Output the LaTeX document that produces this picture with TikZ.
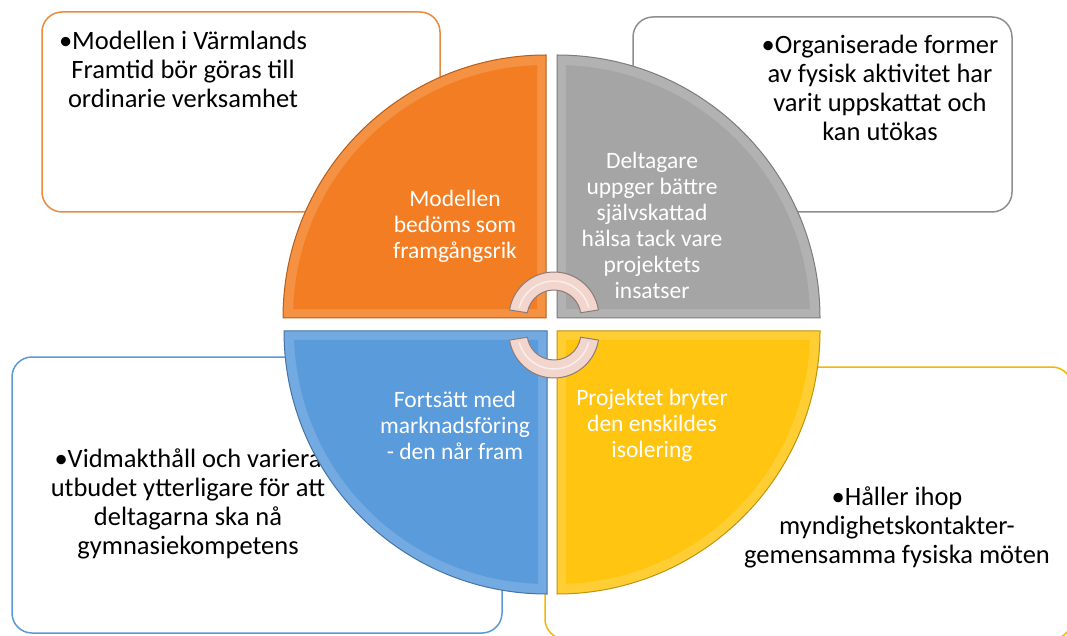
\documentclass[tikz,border=0pt]{standalone}
\usepackage{fontspec}
\setmainfont{Carlito}

\definecolor{qorange}{HTML}{F37D22}
\definecolor{qgrey}{HTML}{A5A5A5}
\definecolor{qblue}{HTML}{5A9BDC}
\definecolor{qyellow}{HTML}{FFC510}
\definecolor{borange}{HTML}{E98A3E}
\definecolor{bgrey}{HTML}{8E8E8E}
\definecolor{bblue}{HTML}{5B9BD5}
\definecolor{byellow}{HTML}{F2B700}
\definecolor{arrowfill}{HTML}{F2D5CC}
\definecolor{arrowedge}{HTML}{8C7B78}

\tikzset{
  infobox/.style = {draw=#1, line width=1.5pt, fill=white, rounded corners=20pt},
  infotext/.style = {align=center, text=black, font=\fontsize{26.5}{29}\selectfont},
  quadtext/.style = {align=center, text=white, font=\fontsize{23.5}{26}\selectfont},
  cyclearrow/.style = {fill=arrowfill, draw=arrowedge, line width=1pt}
}

% one quarter of the disc, corner at #1, turned by #2
\newcommand{\drawquarter}[3]{%
  \begin{scope}[shift={#1}, rotate=#2]
    \fill[#3!85!white] (0,0) -- (0,\R) arc (90:180:\R) -- cycle;
    \fill[#3] (-9,9) -- (92:253) arc (92:178:253) -- cycle;
    \draw[#3!75!black, line width=1pt] (0,0) -- (0,\R) arc (90:180:\R) -- cycle;
  \end{scope}}

\begin{document}
\begin{tikzpicture}[x=1pt, y=1pt]
	\def \R{263}

	\useasboundingbox (0,0) rectangle (1067,635);
	\fill[white] (0,0) rectangle (1067,635);

	% Boxes
	\draw[infobox=borange] (42,423) rectangle (440,623);
	\draw[infobox=bgrey]   (633,423) rectangle (1012,618);
	\draw[infobox=bblue]   (12,2) rectangle (502,278);
	\draw[infobox=byellow] (545,-4) rectangle (1072,268);

	% Box texts
	\node[infotext] (tl) at (183,566) {•Modellen i Värmlands\\Framtid bör göras till\\ordinarie verksamhet};
	\node[infotext] (tr) at (880,547) {•Organiserade former\\av fysisk aktivitet har\\varit uppskattat och\\kan utökas};
	\node[infotext] (bl) at (188,131) {•Vidmakthåll och variera\\utbudet ytterligare för att\\deltagarna ska nå\\gymnasiekompetens};
	\node[infotext] (br) at (897,108) {•Håller ihop\\myndighetskontakter-\\gemensamma fysiska möten};

	% Quarters
	\drawquarter{(546,317)}{0}{qorange}
	\drawquarter{(557,317)}{-90}{qgrey}
	\drawquarter{(557,304)}{180}{qyellow}
	\drawquarter{(547,304)}{90}{qblue}

	% Quarter texts
	\node[quadtext] (qo) at (455,409) {Modellen\\bedöms som\\framgångsrik};
	\node[quadtext] (qg) at (652,410) {Deltagare\\uppger bättre\\självskattad\\hälsa tack vare\\projektets\\insatser};
	\node[quadtext] (qb) at (455,210) {Fortsätt med\\marknadsföring\\- den når fram};
	\node[quadtext] (qy) at (652,210) {Projektet bryter\\den enskildes\\isolering};

	% Cycle arrows
	\begin{scope}[shift={(554,318)}]
		\filldraw[cyclearrow] (9:45) arc (9:171:45) -- (171:27) arc (171:9:27) -- cycle;
		\draw[white, line width=1.5pt, opacity=0.6] (15:36) arc (15:165:36);
	\end{scope}
	\begin{scope}[shift={(554,302)}]
		\filldraw[cyclearrow] (189:45) arc (189:351:45) -- (351:27) arc (351:189:27) -- cycle;
		\draw[white, line width=1.5pt, opacity=0.6] (195:36) arc (195:345:36);
	\end{scope}

\end{tikzpicture}
\end{document}
